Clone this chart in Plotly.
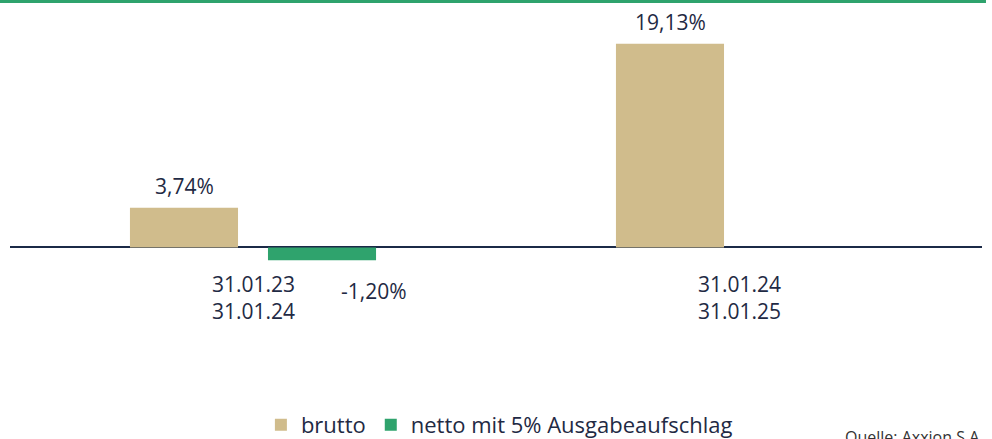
import plotly.graph_objects as go

categories = ["31.01.23<br>31.01.24", "31.01.24<br>31.01.25"]
brutto = [3.74, 19.13]
netto = [-1.20, None]
series_names = ["brutto", "netto mit 5% Ausgabeaufschlag"]
source_text = "Quelle: Axxion S.A."

TEXT = "#1F2A44"
FONT = "Open Sans"
C_BRUTTO = "#D0BC8C"
C_NETTO = "#2FA36D"

def fmt(v):
    return f"{v:.2f}".replace(".", ",") + "%"

fig = go.Figure()
fig.add_trace(go.Bar(x=categories, y=brutto, name=series_names[0],
                     marker=dict(color=C_BRUTTO, line=dict(width=0))))
fig.add_trace(go.Bar(x=categories, y=netto, name=series_names[1],
                     marker=dict(color=C_NETTO, line=dict(width=0))))

annotations = []
for c in categories:
    annotations.append(dict(x=c, y=0, xref="x", yref="y", text=c, showarrow=False,
                            yanchor="middle", yshift=-50,
                            font=dict(size=21, color=TEXT, family=FONT)))
for c, v in zip(categories, brutto):
    if v is None:
        continue
    annotations.append(dict(x=c, y=v, xref="x", yref="y", text=fmt(v), showarrow=False,
                            yanchor="bottom", xshift=-69, yshift=6,
                            font=dict(size=21, color=TEXT, family=FONT)))
for c, v in zip(categories, netto):
    if v is None:
        continue
    annotations.append(dict(x=c, y=v, xref="x", yref="y", text=fmt(v), showarrow=False,
                            yanchor="middle", xshift=121, yshift=-31,
                            font=dict(size=21, color=TEXT, family=FONT)))
annotations.append(dict(x=0.8567, y=-0.264, xref="paper", yref="paper", text=source_text,
                        showarrow=False, xanchor="left", yanchor="top",
                        font=dict(size=16, color="#333333", family=FONT)))

fig.update_layout(
    width=992, height=439,
    margin=dict(l=10, r=10, t=12, b=101),
    paper_bgcolor="white", plot_bgcolor="white",
    barmode="group", bargap=0.432, bargroupgap=0.217,
    showlegend=True,
    legend=dict(orientation="h", xref="container", yref="container",
                x=0.263, xanchor="left", y=0.032, yanchor="middle",
                font=dict(size=22, color=TEXT, family=FONT),
                itemwidth=30, traceorder="normal"),
    xaxis=dict(showticklabels=False, showgrid=False, showline=False, zeroline=False, ticks=""),
    yaxis=dict(range=[-8.5, 22.11], showticklabels=False, showgrid=False, showline=False,
               zeroline=True, zerolinecolor="#1B2A47", zerolinewidth=2, ticks=""),
    annotations=annotations,
    shapes=[dict(type="line", xref="paper", yref="paper",
                 x0=-0.0103, x1=1.0041, y0=1.0322, y1=1.0322,
                 line=dict(color=C_NETTO, width=3))],
    font=dict(family=FONT, color=TEXT),
)

fig.write_html("out.html", config={"displayModeBar": False},
               post_script="document.body.style.margin='0';")
